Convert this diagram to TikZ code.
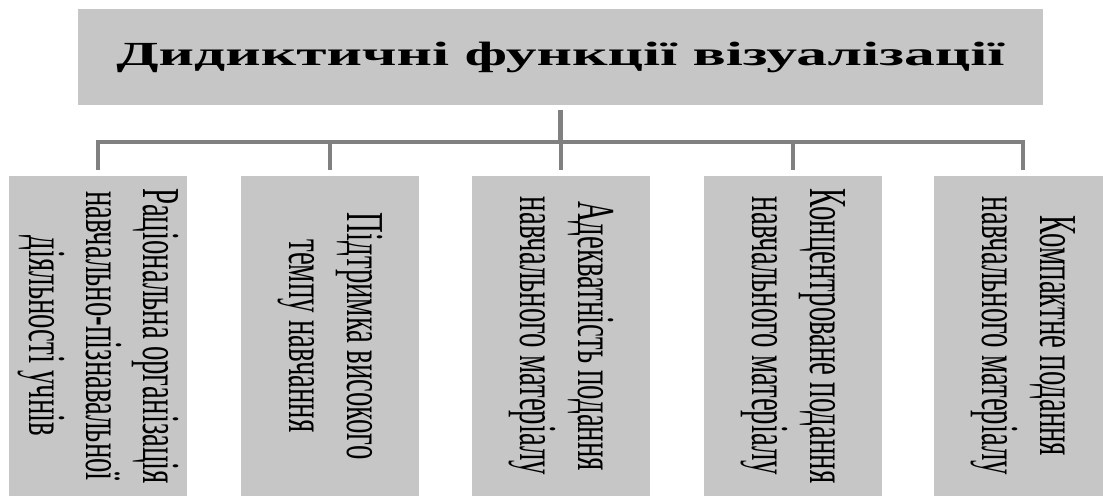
\documentclass[tikz,border=0pt]{standalone}
\usepackage{fontspec}
\setmainfont{Liberation Serif}
\usepackage{graphicx}
\definecolor{boxgray}{RGB}{198,198,198}
\definecolor{linegray}{RGB}{128,128,128}
\newcommand{\vtext}[1]{\rotatebox{-90}{\scalebox{1}[1.85]{\begin{tabular}{@{}c@{}}#1\end{tabular}}}}

\begin{document}
\begin{tikzpicture}[x=0.025cm, y=-0.025cm,
        headbox/.style={fill=boxgray, minimum width=24.125cm, minimum height=2.4cm, inner sep=0pt},
        funcbox/.style={fill=boxgray, minimum width=4.425cm, minimum height=8cm, inner sep=0pt,
            font=\fontsize{20.5}{22}\selectfont},
        link/.style={draw=linegray, line width=3.4pt}
    ]
    \useasboundingbox (0,0) rectangle (1103,496);

    \node [headbox] (head) at (560.5,57)
        {\resizebox{22.2cm}{\height}{\fontsize{24}{28}\selectfont\bfseries Дидиктичні функції візуалізації}};

    \node [funcbox] (f1) at (98,336)
        {\vtext{Раціональна організація\\навчально-пізнавальної\\діяльності учнів}};
    \node [funcbox] (f2) at (330,336)
        {\vtext{Підтримка високого\\темпу навчання}};
    \node [funcbox] (f3) at (561,336)
        {\vtext{Адекватність подання\\навчального матеріалу}};
    \node [funcbox] (f4) at (793,336)
        {\vtext{Концентроване подання\\навчального матеріалу}};
    \node [funcbox] (f5) at (1023,336)
        {\vtext{Компактне подання\\навчального матеріалу}};

    \coordinate (bus) at (0,142);

    \draw [link] ([yshift=-0.125cm]head.south) -- (head.south |- bus);
    \draw [link] ([yshift=0.15cm]f1.north) -- (f1.north |- bus)
        -- (f5.north |- bus) -- ([yshift=0.15cm]f5.north);
    \draw [link] (f2.north |- bus) -- ([yshift=0.15cm]f2.north);
    \draw [link] (f3.north |- bus) -- ([yshift=0.15cm]f3.north);
    \draw [link] (f4.north |- bus) -- ([yshift=0.15cm]f4.north);
\end{tikzpicture}
\end{document}
